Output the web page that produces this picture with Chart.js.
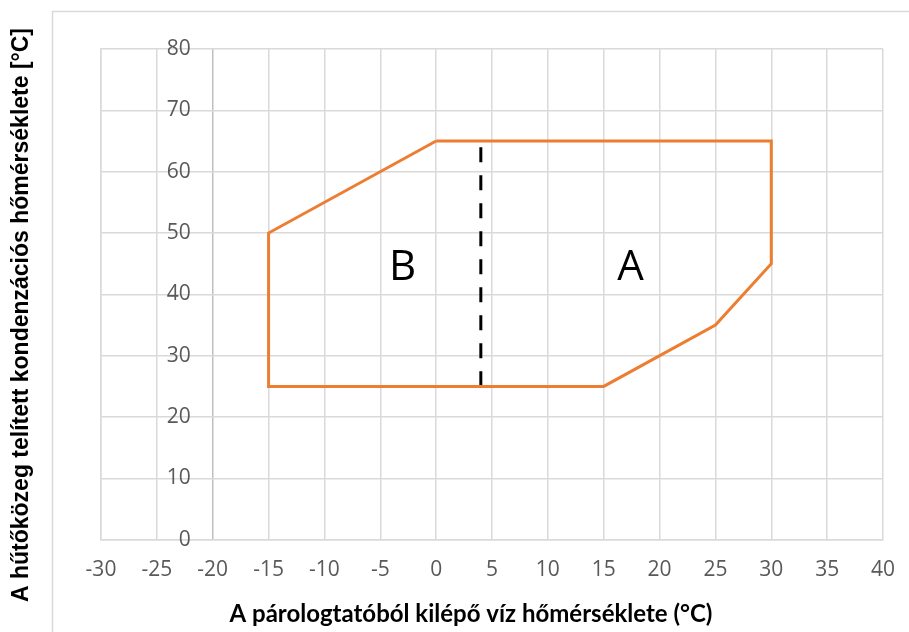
<!DOCTYPE html>
<html>
<head>
<meta charset="utf-8">
<script src="https://cdn.jsdelivr.net/npm/chart.js@4.4.1/dist/chart.umd.min.js"></script>
<style>
  html, body { margin: 0; padding: 0; background: #fff; }
  #wrap { width: 909px; height: 632px; position: relative; }
</style>
</head>
<body>
<div id="wrap"><canvas id="envelope"></canvas></div>
<script>
// Operating envelope (evaporator leaving water temp vs. condensing temp)
const boundaryX = [0, 30, 30, 25, 15, -15, -15, 0];
const boundaryY = [65, 65, 45, 35, 25, 25, 50, 65];

// dashed divider between region B and region A
const dividerX = [4, 4];
const dividerY = [64, 25];

// region letters
const regionNames = ['A', 'B'];
const regionX = [17.4, -3];
const regionY = [44.3, 44.3];

// axes
const xRange = [-30, 40];
const xStep = 5;
const yRange = [0, 80];
const yStep = 10;
const yAxisCross = -20; // vertical axis sits at x = -20

const xTitle = 'A párologtatóból kilépő víz hőmérséklete (°C)';
const yTitle = 'A hűtőközeg telített kondenzációs hőmérséklete [°C]';

const gridColor = '#d9d9d9';
const tickColor = '#595959';

function toPoints(xs, ys) {
    return xs.map((x, i) => ({ x: x, y: ys[i] }));
}

// Outer frame, y tick labels at the crossing axis, region letters and axis titles
const extrasPlugin = {
    id: 'extras',
    beforeDraw(chart) {
        const ctx = chart.ctx;
        ctx.save();
        ctx.fillStyle = '#ffffff';
        ctx.fillRect(0, 0, chart.width, chart.height);
        ctx.strokeStyle = gridColor;
        ctx.lineWidth = 1.5;
        ctx.strokeRect(52.5, 11.5, 1000, 1000);
        ctx.restore();
    },
    afterDraw(chart) {
        const ctx = chart.ctx;
        const xs = chart.scales.x;
        const ys = chart.scales.y;
        ctx.save();

        // y tick labels
        ctx.font = '21px "Open Sans"';
        ctx.fillStyle = tickColor;
        ctx.textAlign = 'right';
        ctx.textBaseline = 'middle';
        const axisPx = xs.getPixelForValue(yAxisCross);
        ys.ticks.forEach(t => {
            ctx.fillText(String(t.value), axisPx - 22, ys.getPixelForValue(t.value));
        });

        // region letters
        ctx.font = '42px "Open Sans"';
        ctx.fillStyle = '#000000';
        ctx.textAlign = 'center';
        regionNames.forEach((name, i) => {
            ctx.fillText(name, xs.getPixelForValue(regionX[i]), ys.getPixelForValue(regionY[i]));
        });

        // x title
        ctx.font = 'bold 24px Lato';
        ctx.fillText(xTitle, 471, 614);

        // y title
        ctx.translate(22, 315);
        ctx.rotate(-Math.PI / 2);
        ctx.font = 'bold 23px "Liberation Sans"';
        ctx.fillText(yTitle, 0, 0);

        ctx.restore();
    }
};

let envelopeChart;

function createChart() {
    const ctx = document.getElementById('envelope').getContext('2d');
    if (envelopeChart) envelopeChart.destroy();

    envelopeChart = new Chart(ctx, {
        type: 'scatter',
        data: {
            datasets: [{
                label: 'Boundary',
                data: toPoints(boundaryX, boundaryY),
                showLine: true,
                borderColor: '#ed7d31',
                borderWidth: 3,
                pointRadius: 0,
                tension: 0
            }, {
                label: 'Divider',
                data: toPoints(dividerX, dividerY),
                showLine: true,
                borderColor: '#000000',
                borderWidth: 3,
                borderDash: [15, 13],
                pointRadius: 0,
                tension: 0
            }]
        },
        options: {
            responsive: true,
            maintainAspectRatio: false,
            animation: false,
            layout: {
                padding: { left: 101, right: 26, top: 49, bottom: 31 }
            },
            plugins: {
                legend: { display: false },
                tooltip: { enabled: false }
            },
            scales: {
                x: {
                    type: 'linear',
                    min: xRange[0],
                    max: xRange[1],
                    afterFit: scale => {
                        // the tick padding would otherwise eat into the right side
                        scale.paddingLeft = 0;
                        scale.paddingRight = 0;
                    },
                    ticks: {
                        stepSize: xStep,
                        autoSkip: false,
                        maxRotation: 0,
                        padding: 18,
                        color: tickColor,
                        font: { family: 'Open Sans', size: 21 }
                    },
                    grid: {
                        drawTicks: false,
                        color: c => (c.tick && c.tick.value === yAxisCross) ? '#bfbfbf' : gridColor,
                        lineWidth: 1.5
                    },
                    border: { color: gridColor, width: 1.5 }
                },
                y: {
                    type: 'linear',
                    min: yRange[0],
                    max: yRange[1],
                    ticks: { stepSize: yStep, display: false },
                    grid: {
                        drawTicks: false,
                        color: gridColor,
                        lineWidth: 1.5
                    },
                    border: { color: gridColor, width: 1.5 }
                }
            }
        },
        plugins: [extrasPlugin]
    });
}

document.addEventListener('DOMContentLoaded', () => {
    createChart();
});
</script>
</body>
</html>
